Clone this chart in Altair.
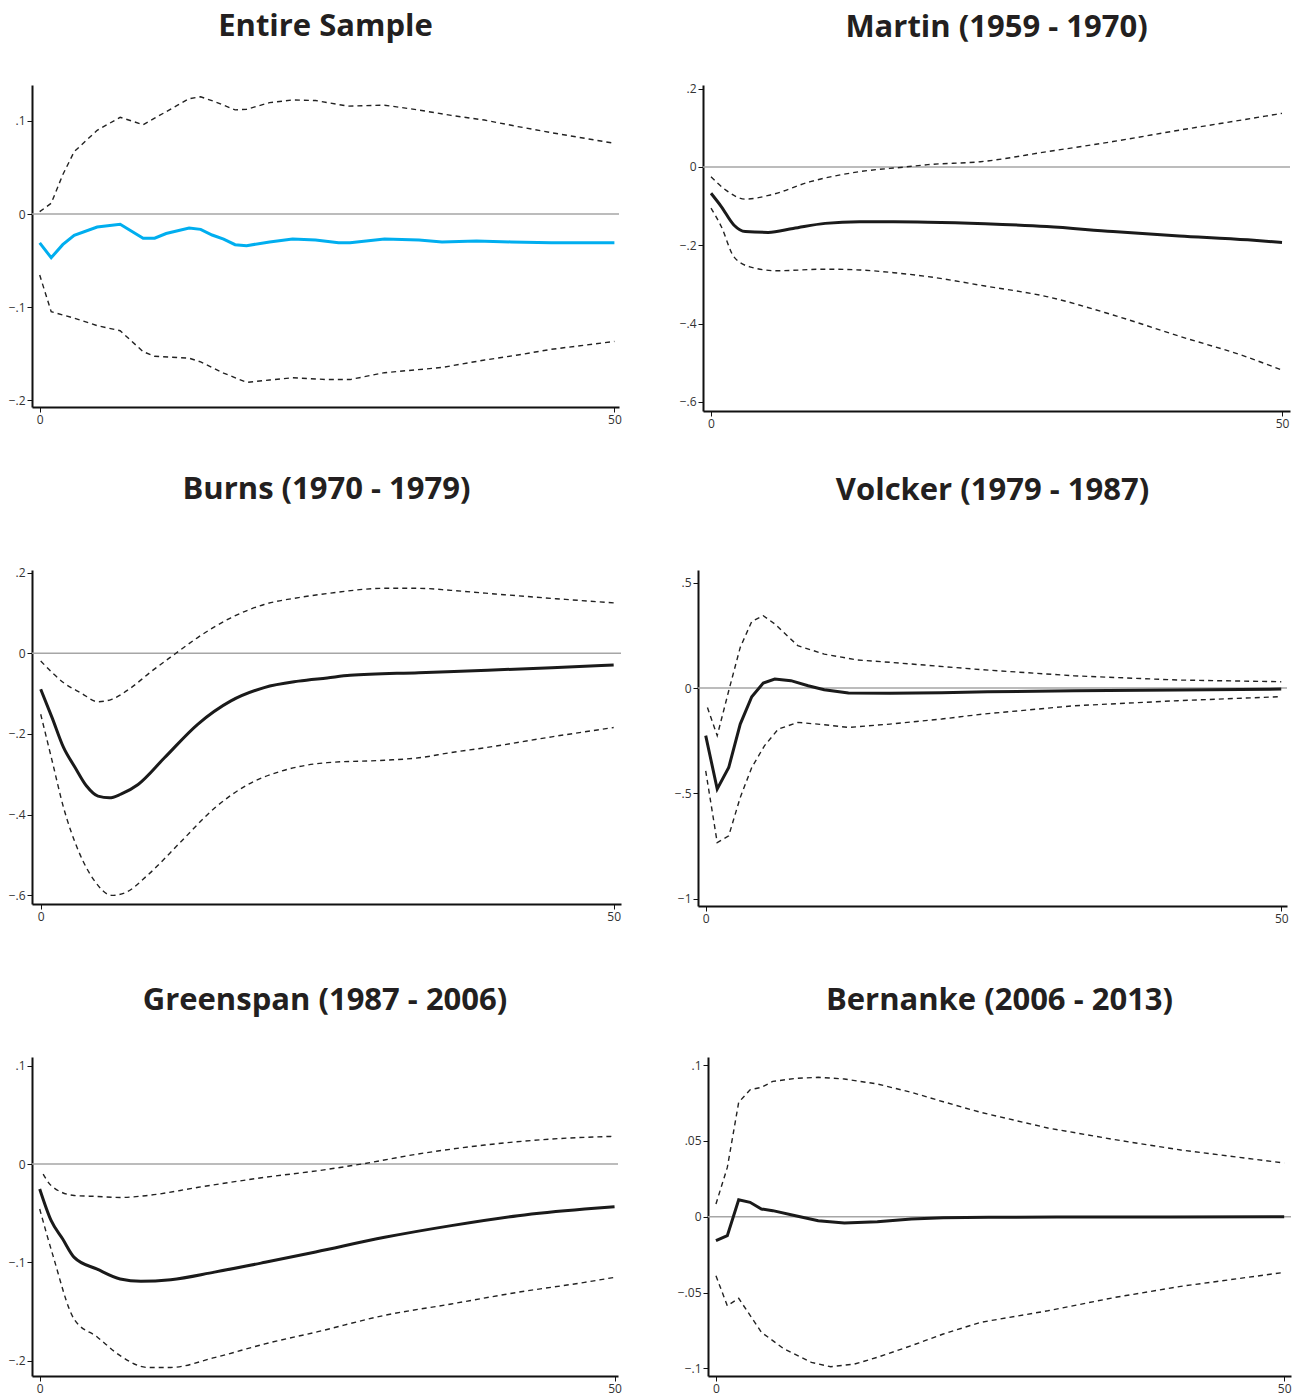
import altair as alt
import pandas as pd

# ---------------- data ----------------
TITLES = ["Entire Sample", "Martin (1959 - 1970)", "Burns (1970 - 1979)",
          "Volcker (1979 - 1987)", "Greenspan (1987 - 2006)", "Bernanke (2006 - 2013)"]
X_TICKS = [0, 50]

# Entire sample
ES_IRF_H = [0, 1, 2, 3, 5, 7, 9, 10, 11, 13, 14, 15, 16, 17, 18, 20, 22, 24, 26, 27, 30, 33, 35, 38, 41, 44.5, 50]
ES_IRF = [-0.031, -0.047, -0.033, -0.023, -0.014, -0.011, -0.026, -0.026, -0.021, -0.015, -0.0165, -0.0226,
          -0.027, -0.033, -0.034, -0.030, -0.027, -0.028, -0.031, -0.031, -0.027, -0.028, -0.030, -0.029,
          -0.030, -0.031, -0.031]
ES_UP_H = [0, 1, 2, 3, 5, 7, 9, 10, 12, 13, 14, 15.2, 17, 18, 20, 22, 24, 26.8, 30, 32.9, 35.8, 38.7, 41.6, 44.5, 50]
ES_UP = [0.0025, 0.0115, 0.042, 0.067, 0.090, 0.104, 0.096, 0.103, 0.117, 0.124, 0.126, 0.121, 0.112, 0.1126,
         0.1197, 0.1226, 0.122, 0.116, 0.117, 0.112, 0.106, 0.101, 0.094, 0.0875, 0.076]
ES_LO_H = [0, 1, 3, 5, 7, 9, 10, 13, 14, 16, 18, 20, 22, 25, 27, 30, 35, 38.7, 41.6, 44.5, 50]
ES_LO = [-0.0656, -0.105, -0.112, -0.120, -0.1255, -0.148, -0.153, -0.155, -0.159, -0.171, -0.181, -0.1785,
         -0.176, -0.178, -0.178, -0.1706, -0.165, -0.157, -0.1516, -0.1455, -0.137]

# Martin
MA_IRF_H = [0, 0.9, 2, 3, 5, 7.2, 10, 13, 16, 19, 24, 29.4, 35.2, 41, 47, 50]
MA_IRF = [-0.067, -0.101, -0.148, -0.165, -0.167, -0.157, -0.144, -0.140, -0.140, -0.141, -0.145, -0.152,
          -0.165, -0.176, -0.186, -0.193]
MA_UP_H = [0, 1.3, 3, 5.2, 8.7, 13, 17, 19, 23.6, 29.4, 35.2, 41.1, 46.9, 50]
MA_UP = [-0.025, -0.059, -0.082, -0.0715, -0.0375, -0.012, 0.0, 0.006, 0.0135, 0.039, 0.065, 0.0945, 0.122, 0.137]
MA_LO_H = [0, 0.9, 2, 3.4, 5.75, 10, 13, 16, 19, 24, 29.4, 35.2, 41.1, 46.9, 50]
MA_LO = [-0.105, -0.152, -0.229, -0.255, -0.265, -0.261, -0.263, -0.270, -0.280, -0.304, -0.331, -0.378,
         -0.433, -0.485, -0.519]

# Burns
BU_IRF_H = [0, 1, 2, 3, 4, 5, 6, 7, 8.5, 10.8, 13.7, 16.6, 19.5, 22.5, 25, 27, 33, 39, 44.6, 50]
BU_IRF = [-0.089, -0.160, -0.234, -0.283, -0.329, -0.354, -0.358, -0.349, -0.325, -0.259, -0.176, -0.118,
          -0.085, -0.069, -0.061, -0.0545, -0.048, -0.042, -0.0357, -0.029]
BU_UP_H = [0, 1, 2, 3.5, 5, 6.2, 7.9, 9.7, 11.8, 13.7, 16.6, 19.5, 22.5, 25, 30, 33, 35.8, 38.8, 44.6, 50]
BU_UP = [-0.019, -0.048, -0.073, -0.098, -0.120, -0.114, -0.085, -0.044, 0.0, 0.039, 0.088, 0.121, 0.138,
         0.148, 0.161, 0.161, 0.156, 0.149, 0.136, 0.125]
BU_LO_H = [0, 1, 2, 3.3, 4.7, 6.2, 7.4, 9.4, 12.3, 15.2, 18.1, 21, 25, 30, 33, 35.8, 38.8, 44.6, 50]
BU_LO = [-0.151, -0.267, -0.383, -0.490, -0.564, -0.600, -0.593, -0.548, -0.465, -0.383, -0.325, -0.292,
         -0.271, -0.265, -0.259, -0.246, -0.234, -0.207, -0.184]

# Volcker
VO_IRF_H = [0, 1, 2, 3, 4, 5, 6, 7.4, 8.9, 10.3, 12.4, 16, 20.5, 24.5, 32, 41, 50]
VO_IRF = [-0.226, -0.479, -0.377, -0.171, -0.041, 0.024, 0.043, 0.035, 0.011, -0.008, -0.024, -0.025,
          -0.022, -0.018, -0.013, -0.0095, -0.005]
VO_UP_H = [0.15, 1, 2, 3, 4, 5, 6, 8, 10.3, 13.2, 16, 19, 24, 32, 41, 50]
VO_UP = [-0.092, -0.226, -0.013, 0.193, 0.316, 0.343, 0.304, 0.201, 0.161, 0.133, 0.122, 0.109, 0.087,
         0.058, 0.038, 0.030]
VO_LO_H = [0, 1, 2, 3, 4, 5.1, 6.3, 8, 10.3, 12.4, 16, 20.5, 24, 32, 41, 50]
VO_LO = [-0.393, -0.733, -0.701, -0.519, -0.377, -0.274, -0.195, -0.163, -0.174, -0.187, -0.171, -0.147,
         -0.124, -0.084, -0.060, -0.041]

# Greenspan
GR_IRF_H = [0, 1, 2, 3, 5, 7, 8.8, 11.4, 15.2, 19.6, 24, 30, 35.8, 41.6, 47.4, 50]
GR_IRF = [-0.0254, -0.0577, -0.0763, -0.095, -0.107, -0.117, -0.1194, -0.1177, -0.110, -0.100, -0.0895,
          -0.0746, -0.0627, -0.0526, -0.0458, -0.0434]
GR_UP_H = [0.3, 1, 3, 5, 7, 9.4, 13.8, 19.6, 24.2, 28, 32.9, 38.7, 44.5, 50]
GR_UP = [-0.0102, -0.022, -0.032, -0.033, -0.034, -0.032, -0.0237, -0.0135, -0.0068, 0.0, 0.0102, 0.0193,
         0.0254, 0.0282]
GR_LO_H = [0, 1.15, 3, 5, 7, 9.4, 11.4, 15.2, 19.6, 24.2, 30, 35.8, 41.6, 47.4, 50]
GR_LO = [-0.0458, -0.093, -0.158, -0.176, -0.195, -0.207, -0.207, -0.197, -0.183, -0.1706, -0.154, -0.1424,
         -0.1305, -0.1204, -0.1153]

# Bernanke
BE_IRF_H = [0, 1, 2, 3, 4, 5, 7, 9, 11.3, 14.2, 17.2, 20, 24, 30, 40, 50]
BE_IRF = [-0.0158, -0.0125, 0.0112, 0.0095, 0.0051, 0.004, 0.0007, -0.0026, -0.0042, -0.0033, -0.0015,
          -0.0007, -0.0004, -0.0002, -0.0001, 0.0]
BE_UP_H = [0, 1, 2, 3, 4, 5, 7, 9, 11.3, 14.2, 17.2, 20, 23.3, 29.2, 35.1, 40.9, 50]
BE_UP = [0.0084, 0.0325, 0.0754, 0.0837, 0.0853, 0.0892, 0.0912, 0.0919, 0.0908, 0.0875, 0.0820, 0.0758,
         0.0688, 0.0585, 0.0508, 0.044, 0.0354]
BE_LO_H = [0, 1, 2, 4, 6, 8.4, 10.1, 12.2, 14.2, 17.2, 20, 23.3, 29.2, 35.1, 40.9, 50]
BE_LO = [-0.0389, -0.0587, -0.0538, -0.0762, -0.0872, -0.096, -0.0989, -0.0971, -0.0927, -0.085, -0.0773,
         -0.0696, -0.062, -0.0532, -0.0459, -0.0367]

ES_YTICKS = [0.1, 0, -0.1, -0.2]
MA_YTICKS = [0.2, 0, -0.2, -0.4, -0.6]
BU_YTICKS = [0.2, 0, -0.2, -0.4, -0.6]
VO_YTICKS = [0.5, 0, -0.5, -1]
GR_YTICKS = [0.1, 0, -0.1, -0.2]
BE_YTICKS = [0.1, 0.05, 0, -0.05, -0.1]

ZERO = [0]

LABEL_EXPR = ("datum.value == 0 ? '0' : "
              "replace(replace(format(datum.value, '.2~f'), '0.', '.'), '-', '\u2212')")


def panel(title, irf_h, irf, up_h, up, lo_h, lo, yticks, xdom, ydom, w, h, toff,
          color="#1a1a1a", interp="monotone"):
    x = alt.X("h:Q", scale=alt.Scale(domain=xdom, nice=False, zero=False),
              axis=alt.Axis(values=X_TICKS, title=None, format="d"))
    y = alt.Y("v:Q", scale=alt.Scale(domain=ydom, nice=False, zero=False),
              axis=alt.Axis(values=yticks, title=None, labelExpr=LABEL_EXPR))
    zero = alt.Chart(pd.DataFrame({"v": ZERO})).mark_rule(
        color="#a6a6a6", strokeWidth=1.6).encode(y=y)
    upper = alt.Chart(pd.DataFrame({"h": up_h, "v": up})).mark_line(
        color="#222222", strokeWidth=1.4, strokeDash=[5, 4], interpolate=interp).encode(x=x, y=y)
    lower = alt.Chart(pd.DataFrame({"h": lo_h, "v": lo})).mark_line(
        color="#222222", strokeWidth=1.4, strokeDash=[5, 4], interpolate=interp).encode(x=x, y=y)
    main = alt.Chart(pd.DataFrame({"h": irf_h, "v": irf})).mark_line(
        color=color, strokeWidth=3, interpolate=interp).encode(x=x, y=y)
    return alt.layer(zero, upper, lower, main).properties(
        width=w, height=h,
        title=alt.TitleParams(title, fontSize=31, font="Open Sans", fontWeight="bold",
                              anchor="middle", offset=toff, color="#231f20"))


p1 = panel(TITLES[0], ES_IRF_H, ES_IRF, ES_UP_H, ES_UP, ES_LO_H, ES_LO, ES_YTICKS,
           [-0.67, 50.4], [-0.2075, 0.1387], 587, 322, 42, color="#00aeef", interp="linear")
p2 = panel(TITLES[1], MA_IRF_H, MA_IRF, MA_UP_H, MA_UP, MA_LO_H, MA_LO, MA_YTICKS,
           [-0.70, 50.7], [-0.6232, 0.2094], 587, 326, 39)
p3 = panel(TITLES[2], BU_IRF_H, BU_IRF, BU_UP_H, BU_UP, BU_LO_H, BU_LO, BU_YTICKS,
           [-0.76, 50.64], [-0.6213, 0.2064], 589, 334, 61)
p4 = panel(TITLES[3], VO_IRF_H, VO_IRF, VO_UP_H, VO_UP, VO_LO_H, VO_LO, VO_YTICKS,
           [-0.67, 50.5], [-1.034, 0.560], 589, 336, 63, interp="linear")
p5 = panel(TITLES[4], GR_IRF_H, GR_IRF, GR_UP_H, GR_UP, GR_LO_H, GR_LO, GR_YTICKS,
           [-0.67, 50.3], [-0.2157, 0.1089], 586, 319, 40)
p6 = panel(TITLES[5], BE_IRF_H, BE_IRF, BE_UP_H, BE_UP, BE_LO_H, BE_LO, BE_YTICKS,
           [-0.70, 50.6], [-0.105, 0.1053], 583, 319, 40, interp="linear")

row1 = alt.hconcat(p1, p2, spacing=57)
row2 = alt.hconcat(p3, p4, spacing=52)
row3 = alt.hconcat(p5, p6, spacing=55)

chart = alt.vconcat(alt.vconcat(row1, row2, spacing=44), row3, spacing=61).properties(
    padding={"left": 8, "top": 11, "right": 0, "bottom": 2}
).configure_view(stroke=None).configure_axis(
    grid=False, domainColor="#111111", domainWidth=2, tickColor="#111111", tickWidth=1,
    tickSize=5, labelFont="Open Sans", labelFontSize=12, labelColor="#333333", labelPadding=2
).configure_concat(spacing=0)

chart.save("out.html", embed_options={"renderer": "svg", "actions": False})
